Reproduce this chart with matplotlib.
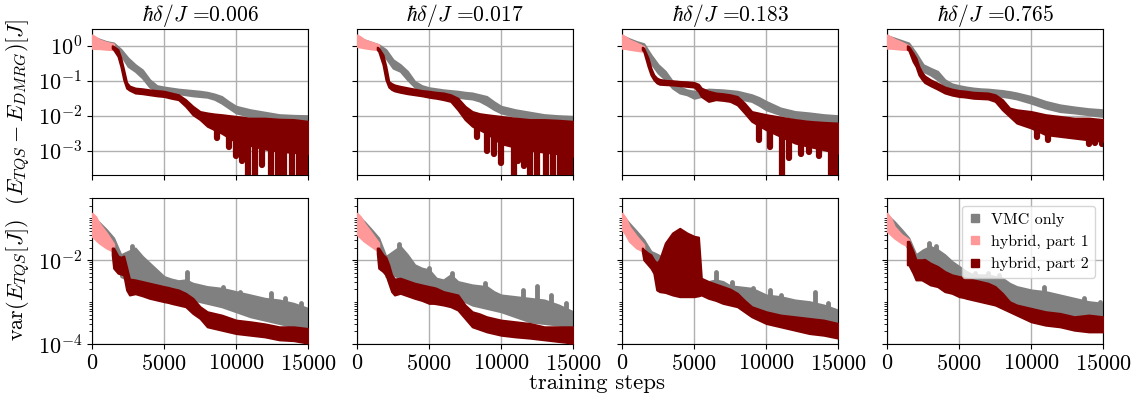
import numpy as np
import matplotlib
matplotlib.use("Agg")
import matplotlib.pyplot as plt
from matplotlib.lines import Line2D
from matplotlib.ticker import FixedLocator, NullLocator, LogLocator, NullFormatter

plt.rcParams["font.family"] = "serif"
plt.rcParams["font.serif"] = ["cmr10"]
plt.rcParams["mathtext.fontset"] = "cm"
plt.rcParams["axes.formatter.use_mathtext"] = True
plt.rcParams["font.size"] = 16

deltas = ["0.006", "0.017", "0.183", "0.765"]
labels = ["VMC only", "hybrid, part 1", "hybrid, part 2"]
colors = ["#808080", "#ff9999", "#800000"]

# training steps at which the band envelopes were sampled
vmc_steps = [0, 500, 1000, 1500, 2000, 2500, 3000, 3500, 4000, 4500, 5000, 5500, 6000,
             6500, 7000, 7500, 8000, 8500, 9000, 9500, 10000, 11000, 12000, 13000, 14000, 15000]
part1_steps = [0, 250, 500, 1000, 1500]
part2_steps = [1400, 1500, 1800, 2000, 2200, 2400, 2600, 3000, 3500, 4000, 4500, 5000, 5300,
               5500, 6000, 6500, 7000, 7500, 8000, 8500, 9000, 10000, 11000, 12000, 13000,
               14000, 15000]

# ---- energy error, log10 of upper / lower envelope, one list per delta ----
err_vmc_hi = [
    [0.27, 0.19, 0.12, 0.08, -0.10, -0.35, -0.54, -0.69, -0.97, -1.14, -1.18, -1.21, -1.24,
     -1.26, -1.28, -1.30, -1.33, -1.38, -1.45, -1.60, -1.73, -1.83, -1.90, -1.97, -1.99, -2.00],
    [0.27, 0.17, 0.10, 0.03, -0.11, -0.40, -0.54, -0.73, -1.02, -1.14, -1.20, -1.23, -1.26,
     -1.28, -1.30, -1.33, -1.35, -1.40, -1.45, -1.60, -1.73, -1.83, -1.90, -1.97, -2.00, -2.02],
    [0.29, 0.20, 0.12, 0.06, -0.26, -0.54, -0.73, -1.02, -1.18, -1.26, -1.30, -1.28, -1.24,
     -1.25, -1.26, -1.28, -1.30, -1.35, -1.40, -1.48, -1.59, -1.78, -1.88, -1.92, -1.97, -2.00],
    [0.29, 0.22, 0.15, 0.08, -0.21, -0.54, -0.64, -0.73, -0.97, -1.09, -1.14, -1.18, -1.21,
     -1.23, -1.24, -1.26, -1.28, -1.31, -1.35, -1.40, -1.45, -1.59, -1.69, -1.75, -1.80, -1.83],
]
err_vmc_lo = [
    [0.12, 0.08, 0.05, -0.02, -0.26, -0.59, -0.73, -0.92, -1.18, -1.30, -1.33, -1.35, -1.37,
     -1.40, -1.43, -1.45, -1.47, -1.53, -1.64, -1.78, -1.92, -2.02, -2.10, -2.16, -2.19, -2.21],
    [0.12, 0.06, 0.00, -0.07, -0.35, -0.64, -0.73, -0.97, -1.18, -1.28, -1.35, -1.38, -1.40,
     -1.44, -1.47, -1.50, -1.52, -1.58, -1.69, -1.82, -1.92, -2.02, -2.11, -2.19, -2.23, -2.29],
    [0.12, 0.08, 0.03, -0.04, -0.50, -0.78, -0.97, -1.21, -1.35, -1.40, -1.50, -1.45, -1.40,
     -1.42, -1.45, -1.48, -1.50, -1.55, -1.59, -1.70, -1.83, -1.97, -2.07, -2.11, -2.16, -2.21],
    [0.12, 0.10, 0.06, -0.02, -0.45, -0.73, -0.83, -0.97, -1.14, -1.24, -1.28, -1.32, -1.35,
     -1.38, -1.40, -1.42, -1.45, -1.48, -1.52, -1.58, -1.64, -1.78, -1.88, -1.92, -1.97, -2.02],
]
err_part1_hi = [
    [0.31, 0.25, 0.17, 0.10, 0.05],
    [0.31, 0.25, 0.17, 0.10, 0.03],
    [0.31, 0.25, 0.17, 0.08, -0.02],
    [0.31, 0.25, 0.19, 0.10, 0.00],
]
err_part1_lo = [
    [-0.07, -0.08, -0.08, -0.10, -0.11],
    [-0.02, -0.04, -0.06, -0.09, -0.11],
    [-0.07, -0.08, -0.10, -0.13, -0.16],
    [-0.07, -0.07, -0.08, -0.10, -0.11],
]
err_part2_hi = [
    [0.00, -0.02, -0.11, -0.35, -0.69, -1.05, -1.15, -1.21, -1.23, -1.26, -1.28, -1.30, -1.33,
     -1.35, -1.40, -1.54, -1.73, -1.88, -1.92, -1.95, -1.97, -2.02, -2.07, -2.07, -2.10, -2.11,
     -2.16],
    [-0.04, -0.07, -0.26, -0.59, -1.02, -1.08, -1.12, -1.16, -1.20, -1.24, -1.28, -1.30, -1.32,
     -1.33, -1.35, -1.40, -1.50, -1.73, -1.88, -1.94, -1.97, -2.02, -2.07, -2.11, -2.11, -2.13,
     -2.16],
    [-0.04, -0.07, -0.35, -0.64, -0.83, -0.92, -0.96, -0.99, -1.00, -1.02, -1.03, -1.05, -1.10,
     -1.21, -1.30, -1.35, -1.37, -1.40, -1.45, -1.64, -1.88, -1.97, -2.04, -2.11, -2.16, -2.19,
     -2.21],
    [0.00, -0.02, -0.21, -0.35, -0.59, -0.75, -0.86, -0.97, -1.07, -1.18, -1.24, -1.28, -1.29,
     -1.30, -1.33, -1.34, -1.35, -1.40, -1.54, -1.78, -1.83, -1.88, -1.97, -2.02, -2.07, -2.07,
     -2.11],
]
err_part2_lo = [
    [-0.07, -0.11, -0.30, -0.59, -0.97, -1.21, -1.27, -1.35, -1.37, -1.40, -1.43, -1.45, -1.48,
     -1.50, -1.54, -1.73, -1.97, -2.11, -2.30, -2.40, -2.50, -2.75, -2.85, -2.95, -3.02, -3.05,
     -3.08],
    [-0.11, -0.16, -0.54, -0.97, -1.18, -1.25, -1.29, -1.33, -1.37, -1.40, -1.43, -1.47, -1.49,
     -1.50, -1.54, -1.59, -1.83, -2.11, -2.30, -2.40, -2.50, -2.80, -2.90, -2.99, -3.04, -3.09,
     -3.16],
    [-0.11, -0.16, -0.59, -0.83, -0.97, -1.06, -1.10, -1.11, -1.12, -1.14, -1.16, -1.18, -1.30,
     -1.45, -1.59, -1.54, -1.56, -1.59, -1.69, -1.92, -2.16, -2.40, -2.59, -2.78, -2.88, -2.97,
     -3.07],
    [-0.10, -0.13, -0.45, -0.59, -0.83, -0.95, -1.05, -1.14, -1.24, -1.35, -1.41, -1.45, -1.46,
     -1.47, -1.50, -1.51, -1.52, -1.59, -1.83, -2.02, -2.21, -2.35, -2.54, -2.59, -2.64, -2.69,
     -2.73],
]
# downward excursions of the hybrid error (step, log10 of tip)
err_dip_steps = [
    [8700, 9500, 10000, 10400, 10800, 11300, 11800, 12400, 12900, 13300, 13900, 14400, 14800],
    [8300, 9000, 9500, 10000, 10900, 11200, 11600, 12000, 12500, 13100, 13600, 14100, 14500,
     14900],
    [9500, 10300, 11100, 11600, 12400, 13000, 13700, 14500, 14900],
    [10400, 11200, 14000, 14400, 14900],
]
err_dip_tips = [
    [-2.65, -2.90, -3.15, -3.30, -3.70, -3.70, -3.40, -3.70, -3.70, -3.70, -3.70, -3.70, -3.70],
    [-2.60, -3.00, -3.10, -3.35, -3.70, -3.30, -3.45, -3.70, -3.70, -3.70, -3.70, -3.70, -3.70,
     -3.70],
    [-2.70, -2.90, -3.70, -3.20, -3.10, -3.05, -3.15, -3.70, -3.70],
    [-2.60, -2.70, -2.80, -2.78, -2.82],
]

# ---- energy variance, log10 of upper / lower envelope ----
var_vmc_hi = [
    [-0.96, -1.10, -1.27, -1.47, -1.87, -1.79, -1.71, -1.91, -2.07, -2.23, -2.39, -2.45, -2.49,
     -2.47, -2.55, -2.59, -2.63, -2.65, -2.67, -2.71, -2.75, -2.83, -2.91, -2.95, -3.03, -3.15],
    [-0.92, -1.08, -1.27, -1.47, -1.91, -1.79, -1.67, -1.87, -2.11, -2.19, -2.23, -2.43, -2.47,
     -2.35, -2.51, -2.55, -2.59, -2.61, -2.63, -2.75, -2.83, -2.87, -2.91, -2.95, -3.07, -3.23],
    [-0.92, -1.12, -1.31, -1.51, -1.79, -1.87, -1.99, -2.07, -2.15, -2.23, -2.35, -2.47, -2.51,
     -2.47, -2.51, -2.61, -2.63, -2.65, -2.67, -2.75, -2.83, -2.87, -2.95, -2.99, -3.07, -3.19],
    [-0.92, -1.08, -1.27, -1.47, -1.87, -1.75, -1.67, -1.75, -1.87, -2.03, -2.15, -2.27, -2.35,
     -2.35, -2.35, -2.39, -2.43, -2.55, -2.63, -2.67, -2.71, -2.75, -2.83, -2.91, -2.99, -3.03],
]
var_vmc_lo = [
    [-1.16, -1.34, -1.51, -1.75, -2.39, -2.47, -2.51, -2.55, -2.63, -2.71, -2.79, -2.83, -2.87,
     -2.91, -2.95, -2.99, -3.03, -3.07, -3.11, -3.17, -3.23, -3.35, -3.43, -3.51, -3.59, -3.63],
    [-1.12, -1.29, -1.47, -1.71, -2.39, -2.35, -2.43, -2.47, -2.55, -2.63, -2.71, -2.75, -2.79,
     -2.83, -2.91, -2.99, -3.07, -3.11, -3.15, -3.19, -3.23, -3.35, -3.47, -3.51, -3.55, -3.59],
    [-1.08, -1.31, -1.51, -1.75, -2.15, -2.47, -2.55, -2.63, -2.71, -2.75, -2.79, -2.79, -2.83,
     -2.83, -2.87, -2.91, -2.99, -3.07, -3.15, -3.20, -3.27, -3.35, -3.43, -3.47, -3.51, -3.59],
    [-1.08, -1.27, -1.47, -1.75, -2.31, -2.27, -2.39, -2.47, -2.55, -2.63, -2.67, -2.75, -2.79,
     -2.83, -2.87, -2.91, -2.95, -3.03, -3.07, -3.11, -3.15, -3.23, -3.31, -3.35, -3.39, -3.43],
]
var_part1_hi = [
    [-0.88, -0.96, -1.12, -1.35, -1.61],
    [-0.88, -0.97, -1.12, -1.35, -1.59],
    [-0.88, -1.00, -1.20, -1.43, -1.63],
    [-0.88, -1.00, -1.20, -1.39, -1.51],
]
var_part1_lo = [
    [-1.43, -1.51, -1.59, -1.71, -1.79],
    [-1.39, -1.47, -1.55, -1.67, -1.79],
    [-1.27, -1.39, -1.55, -1.71, -1.79],
    [-1.31, -1.39, -1.47, -1.59, -1.67],
]
var_part2_hi = [
    [-1.71, -1.71, -1.90, -1.93, -1.90, -2.17, -2.45, -2.47, -2.51, -2.55, -2.59, -2.63, -2.65,
     -2.67, -2.71, -2.79, -2.91, -3.11, -3.23, -3.27, -3.31, -3.43, -3.47, -3.52, -3.59, -3.59,
     -3.63],
    [-1.71, -1.71, -1.87, -1.93, -2.11, -2.35, -2.45, -2.43, -2.49, -2.55, -2.59, -2.63, -2.65,
     -2.67, -2.75, -2.79, -2.83, -3.07, -3.23, -3.28, -3.35, -3.43, -3.47, -3.51, -3.59, -3.59,
     -3.59],
    [-1.71, -1.75, -1.83, -1.87, -1.99, -2.07, -1.99, -1.59, -1.35, -1.24, -1.35, -1.43, -1.45,
     -2.43, -2.51, -2.57, -2.63, -2.69, -2.79, -2.96, -3.11, -3.23, -3.31, -3.35, -3.39, -3.43,
     -3.51],
    [-1.55, -1.55, -1.79, -1.99, -1.99, -1.99, -1.98, -2.07, -2.15, -2.27, -2.35, -2.39, -2.41,
     -2.43, -2.47, -2.51, -2.55, -2.63, -2.79, -2.99, -3.07, -3.15, -3.23, -3.27, -3.35, -3.31,
     -3.35],
]
var_part2_lo = [
    [-1.87, -2.19, -2.31, -2.33, -2.35, -2.71, -2.83, -2.80, -2.85, -2.91, -2.95, -2.99, -3.01,
     -3.03, -3.07, -3.11, -3.27, -3.39, -3.59, -3.63, -3.67, -3.75, -3.79, -3.83, -3.90, -3.92,
     -3.98],
    [-1.83, -2.19, -2.27, -2.35, -2.55, -2.75, -2.83, -2.79, -2.85, -2.91, -2.96, -3.03, -3.03,
     -3.04, -3.07, -3.11, -3.19, -3.39, -3.59, -3.65, -3.71, -3.79, -3.83, -3.86, -3.90, -3.94,
     -3.98],
    [-1.79, -1.99, -2.11, -2.19, -2.31, -2.71, -2.75, -2.77, -2.83, -2.87, -2.87, -2.87, -2.85,
     -2.83, -2.91, -2.96, -3.03, -3.07, -3.11, -3.23, -3.35, -3.51, -3.59, -3.67, -3.75, -3.79,
     -3.86],
    [-2.11, -2.11, -2.31, -2.47, -2.47, -2.47, -2.51, -2.59, -2.63, -2.75, -2.79, -2.87, -2.89,
     -2.91, -2.95, -2.99, -3.03, -3.07, -3.15, -3.23, -3.31, -3.47, -3.55, -3.59, -3.67, -3.71,
     -3.71],
]
# upward bursts of the VMC variance (step, log10 of tip)
var_burst_steps = [
    [2750, 6600, 9100, 10300, 12400, 13400, 14500],
    [2900, 5000, 6600, 8900, 11500, 12500, 13500, 14500],
    [6500, 7600, 9100, 10300, 11000, 13400, 14300],
    [2900, 3400, 6100, 7000, 7800, 10900, 13700, 14800],
]
var_burst_tips = [
    [-1.67, -2.27, -2.63, -2.75, -2.79, -2.91, -3.03],
    [-1.62, -2.19, -2.31, -2.55, -2.71, -2.62, -2.83, -3.03],
    [-2.27, -2.51, -2.67, -2.71, -2.83, -2.75, -3.03],
    [-1.59, -1.67, -2.31, -2.31, -2.35, -2.63, -2.91, -2.99],
]


def band(ax, steps, lo, hi, color, z):
    ax.fill_between(steps, 10.0 ** np.array(lo), 10.0 ** np.array(hi),
                    color=color, lw=1.5, edgecolor=color, zorder=z)


def spikes(ax, s, tips, steps, lo, hi, color, z, width):
    mid = (np.array(lo) + np.array(hi)) / 2
    base = np.interp(s, steps, mid)
    ax.vlines(s, 10.0 ** np.array(tips), 10.0 ** base, colors=color,
              lw=width, capstyle="round", zorder=z)


fig = plt.figure(figsize=(11.42, 4.0), dpi=100)
axes = fig.subplots(2, 4, sharex=True, sharey="row")
fig.subplots_adjust(left=0.0806, right=0.966, top=0.9275, bottom=0.14,
                    wspace=0.227, hspace=0.16)

for i in range(4):
    top = axes[0, i]
    bot = axes[1, i]

    # energy error vs DMRG
    band(top, vmc_steps, err_vmc_lo[i], err_vmc_hi[i], colors[0], 2)
    band(top, part1_steps, err_part1_lo[i], err_part1_hi[i], colors[1], 3)
    band(top, part2_steps, err_part2_lo[i], err_part2_hi[i], colors[2], 4)
    spikes(top, err_dip_steps[i], err_dip_tips[i], part2_steps,
           err_part2_lo[i], err_part2_hi[i], colors[2], 4, 4.5)
    top.set_title(r"$\hbar\delta/J$ =" + deltas[i], fontsize=15.5)

    # energy variance
    band(bot, vmc_steps, var_vmc_lo[i], var_vmc_hi[i], colors[0], 2)
    spikes(bot, var_burst_steps[i], var_burst_tips[i], vmc_steps,
           var_vmc_lo[i], var_vmc_hi[i], colors[0], 2, 3.5)
    band(bot, part1_steps, var_part1_lo[i], var_part1_hi[i], colors[1], 3)
    band(bot, part2_steps, var_part2_lo[i], var_part2_hi[i], colors[2], 4)

    for ax in (top, bot):
        ax.set_yscale("log")
        ax.grid(True, which="major", color="#b0b0b0", lw=1.0)
        ax.set_axisbelow(True)

axes[0, 0].set_xlim(0, 15000)
axes[0, 0].set_xticks([0, 5000, 10000, 15000])

axes[0, 0].set_ylim(10 ** -3.69, 10 ** 0.48)
axes[0, 0].yaxis.set_major_locator(FixedLocator([1e-3, 1e-2, 1e-1, 1.0]))
axes[0, 0].yaxis.set_minor_locator(NullLocator())

axes[1, 0].set_ylim(1e-4, 10 ** -0.52)
axes[1, 0].yaxis.set_major_locator(FixedLocator([1e-4, 1e-2]))
axes[1, 0].yaxis.set_minor_locator(LogLocator(base=10, subs=np.arange(1, 10), numticks=20))
axes[1, 0].yaxis.set_minor_formatter(NullFormatter())

for ax in axes.flat:
    ax.tick_params(labelsize=16)

handles = [Line2D([], [], marker="s", ls="none", color=c, markersize=6, label=l)
           for c, l in zip(colors, labels)]
axes[1, 3].legend(handles=handles, loc="upper right", fontsize=11.5,
                  handlelength=0.8, handletextpad=0.6, borderpad=0.4, labelspacing=0.5)

fig.text(18 / 1142, 0.55, r"$\mathrm{var}(E_{TQS}[J])$  $(E_{TQS} - E_{DMRG})[J]$",
         rotation=90, ha="center", va="center", fontsize=16)
fig.text(597 / 1142, 0.043, "training steps", ha="center", va="center", fontsize=16.5)

fig.savefig("out.png", dpi=100)
